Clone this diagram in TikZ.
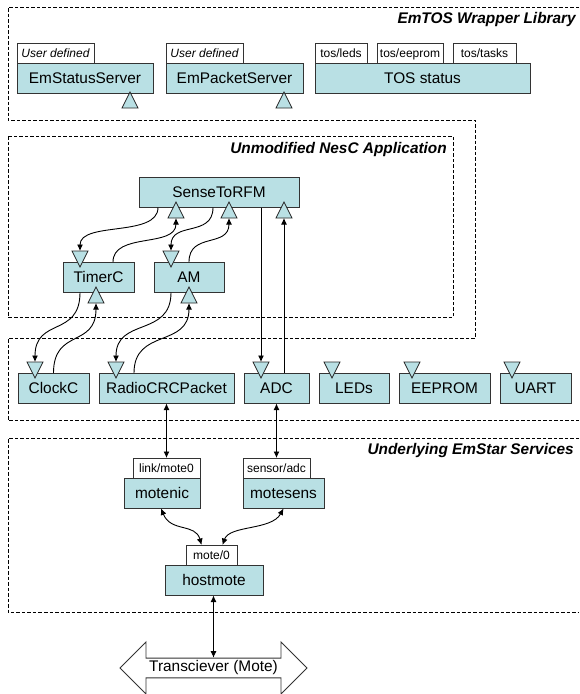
\documentclass[tikz,border=0pt]{standalone}
\usepackage{fontspec}
\setmainfont{Liberation Sans}
\usepackage{xcolor}
\usepackage{tikz}
\definecolor{moduleBlue}{RGB}{185, 224, 228}
\usetikzlibrary{shapes.geometric, shapes.arrows, arrows.meta, positioning}

\begin{document}
\begin{tikzpicture}[
    x=1pt, y=-1pt,
    box/.style={rectangle, draw=black!80, fill=moduleBlue, line width=0.9pt, minimum height=30.5pt, inner sep=0pt, outer sep=0pt, anchor=north west, font=\fontsize{15.4}{18}\selectfont},
    tab/.style={rectangle, draw=black!80, fill=white, line width=0.9pt, minimum height=20pt, inner sep=0pt, outer sep=0pt, anchor=south west, text height=8.6pt, text depth=0pt, font=\fontsize{12}{14}\selectfont},
    port/.style={isosceles triangle, isosceles triangle apex angle=53, isosceles triangle stretches, minimum width=16pt, minimum height=16pt, inner sep=0pt, outer sep=0pt, draw=black!85, fill=moduleBlue, line width=0.8pt, anchor=apex},
    portup/.style={port, shape border rotate=90},
    portdown/.style={port, shape border rotate=-90},
    arrow/.style={-{Latex[length=6.5pt,width=6pt]}, line width=0.9pt, black},
    dblarrow/.style={{Latex[length=6.5pt,width=6pt]}-{Latex[length=6.5pt,width=6pt]}, line width=0.9pt, black},
    region/.style={draw=black, line width=0.7pt, dash pattern=on 3.5pt off 2pt},
    title/.style={anchor=east, inner sep=0pt, font=\fontsize{15.4}{18}\selectfont\bfseries\itshape}
]
    \useasboundingbox (0,0) rectangle (579,694);

    % dashed regions
    \path[region] (579,7) -- (8,7) -- (8,120) -- (475,120) -- (475,338) -- (8,338) -- (8,420) -- (579,420);
    \path[region] (8,136) rectangle (453,317);
    \path[region] (579,438) -- (8,438) -- (8,612) -- (579,612);
    \node[title] (wraptitle) at (576,20) {EmTOS Wrapper Library};
    \node[title] (apptitle) at (447,150) {Unmodified NesC Application};
    \node[title] (svctitle) at (574,451) {Underlying EmStar Services};

    % wrapper library
    \node[box, minimum width=136pt] (statussrv) at (17,63) {EmStatusServer};
    \node[box, minimum width=137pt] (packetsrv) at (166,63) {EmPacketServer};
    \node[box, minimum width=215pt] (tosstatus) at (315,63) {TOS status};
    \node[tab, minimum width=77pt] (statustab) at (statussrv.north west) {\itshape User defined};
    \node[tab, minimum width=77pt] (packettab) at (packetsrv.north west) {\itshape User defined};
    \node[tab, minimum width=52pt] (ledstab) at (tosstatus.north west) {tos/leds};
    \node[tab, minimum width=66pt] (eepromtab) at ([xshift=62pt]tosstatus.north west) {tos/eeprom};
    \node[tab, minimum width=63pt] (taskstab) at ([xshift=138pt]tosstatus.north west) {tos/tasks};
    \node[portup] (statusport) at (130,92) {};
    \node[portup] (packetport) at (284,92) {};

    % application
    \node[box, minimum width=160pt] (sense) at (139,177) {SenseToRFM};
    \node[box, minimum width=71pt] (timer) at (63,262) {TimerC};
    \node[box, minimum width=70pt] (am) at (154,262) {AM};
    \node[portup] (sensetimer) at (176,202) {};
    \node[portup] (senseam) at (229,202) {};
    \node[portup] (senseadc) at (284,202) {};
    \node[portup] (timerclock) at (96,287) {};
    \node[portup] (amradio) at (189,287) {};
    \node[portdown] (timerin) at (80,267) {};
    \node[portdown] (amin) at (171,267) {};

    % components
    \node[box, minimum width=71pt] (clock) at (18,373) {ClockC};
    \node[box, minimum width=135pt] (radio) at (99,373) {RadioCRCPacket};
    \node[box, minimum width=65pt] (adc) at (244,373) {ADC};
    \node[box, minimum width=70pt] (leds) at (319,373) {LEDs};
    \node[box, minimum width=91pt] (eeprom) at (399,373) {EEPROM};
    \node[box, minimum width=71pt] (uart) at (500,373) {UART};
    \node[portdown] (clockin) at (35,378) {};
    \node[portdown] (radioin) at (116,378) {};
    \node[portdown] (adcin) at (261,378) {};
    \node[portdown] (ledsin) at (332,378) {};
    \node[portdown] (eepromin) at (412,378) {};
    \node[portdown] (uartin) at (512,378) {};

    % services
    \node[box, minimum width=76pt] (motenic) at (124,478) {motenic};
    \node[box, minimum width=81pt] (motesens) at (243,478) {motesens};
    \node[box, minimum width=98pt] (hostmote) at (165,565) {hostmote};
    \node[tab, anchor=south east, minimum width=67pt] (linktab) at (motenic.north east) {link/mote0};
    \node[tab, minimum width=67pt] (adctab) at (motesens.north west) {sensor/adc};
    \node[tab, anchor=south, minimum width=51pt] (motetab) at ([xshift=-2.5pt]hostmote.north) {mote/0};
    \node[double arrow, draw=black!80, fill=white, line width=0.9pt, minimum height=187pt, minimum width=52pt, double arrow head extend=12.5pt, inner sep=0pt, font=\fontsize{15.4}{18}\selectfont] (mote) at (213.5,668) {Transciever (Mote)};

    \draw[arrow] ([xshift=19pt]sense.south west) .. controls +(0,30) and +(0,-30) .. (timerin.north);
    \draw[arrow] ([xshift=50pt]timer.north west) .. controls +(0,-30) and +(0,30) .. (sensetimer.south);
    \draw[arrow] ([xshift=74pt]sense.south west) .. controls +(0,30) and +(0,-30) .. (amin.north);
    \draw[arrow] (am.north) .. controls +(0,-30) and +(0,30) .. (senseam.south);
    \draw[arrow] ([xshift=17pt]timer.south west) .. controls +(0,45) and +(0,-45) .. (clockin.north);
    \draw[arrow] (clock.north) .. controls +(0,-45) and +(0,45) .. (timerclock.south);
    \draw[arrow] ([xshift=17pt]am.south west) .. controls +(0,45) and +(0,-45) .. (radioin.north);
    \draw[arrow] ([xshift=35pt]radio.north west) .. controls +(0,-45) and +(0,45) .. (amradio.south);
    \draw[arrow] (adcin.north |- sense.south) -- (adcin.north);
    \draw[arrow] (senseadc.south |- adc.north) -- (senseadc.south);
    \draw[dblarrow] (radio.south) -- (radio.south |- linktab.north);
    \draw[dblarrow] (adc.south) -- (adc.south |- adctab.north);
    \draw[dblarrow] ([xshift=-1pt]motenic.south) .. controls +(10,24) and +(-6,-22) .. ([xshift=-10pt]motetab.north);
    \draw[dblarrow] (motesens.south) .. controls +(-12,22) and +(7,-20) .. ([xshift=11pt]motetab.north);
    \draw[dblarrow] ([xshift=-.5pt]hostmote.south) -- (mote.90);
\end{tikzpicture}
\end{document}
